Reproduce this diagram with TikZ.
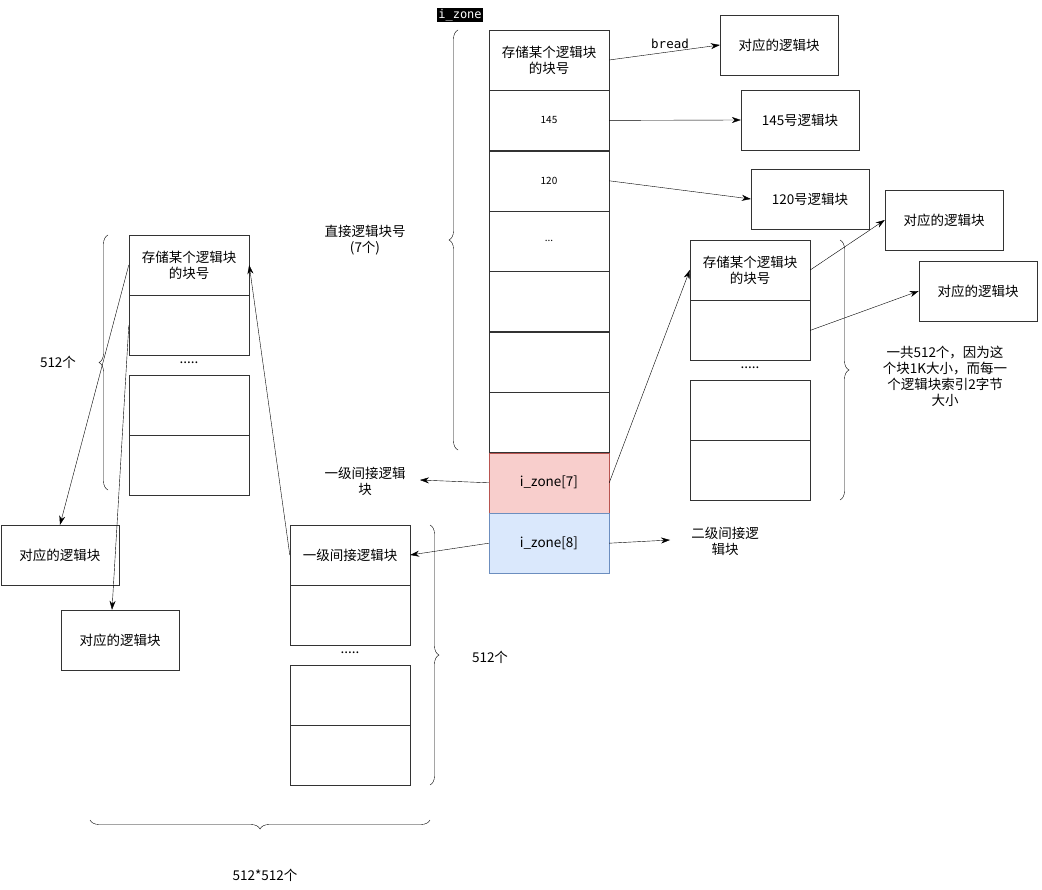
\documentclass[tikz,border=0pt]{standalone}
\usepackage{fontspec}
\setmainfont{Noto Sans CJK SC}
\setmonofont{DejaVu Sans Mono}
\usetikzlibrary{positioning,arrows.meta,decorations.pathreplacing}
\definecolor{pinkfill}{HTML}{F8CECC}
\definecolor{pinkline}{HTML}{B85450}
\definecolor{bluefill}{HTML}{DAE8FC}
\definecolor{blueline}{HTML}{6C8EBF}
\tikzset{
  cell/.style   = {draw=black!80, minimum width=120pt, minimum height=60pt,
                   inner sep=1pt, align=center, font=\fontsize{13.5}{16}\selectfont},
  blk/.style    = {cell, minimum width=118pt},
  lbl/.style    = {align=center, font=\fontsize{13.5}{16}\selectfont},
  brc/.style    = {decorate, decoration={brace,amplitude=9pt}, thin}
}
\begin{document}
\begin{tikzpicture}[x=1pt,y=-1pt,->,>={Stealth[length=9pt,width=6pt]},thin]
\useasboundingbox (0,0) rectangle (1042,890);
% main column
\node [cell] (r0) at (549,60) {存储某个逻辑块\\的块号};
\node [cell, font=\fontsize{10}{12}\selectfont, below=0pt of r0] (r1) {145};
\node [cell, font=\fontsize{10}{12}\selectfont, below=0pt of r1] (r2) {120};
\node [cell, font=\fontsize{10}{12}\selectfont, below=0pt of r2] (r3) {...};
\node [cell, below=0pt of r3] (r4) {};
\node [cell, below=0pt of r4] (r5) {};
\node [cell, below=0pt of r5] (r6) {};
\node [cell, fill=pinkfill, draw=pinkline, below=0pt of r6] (z7) {i\_zone[7]};
\node [cell, fill=bluefill, draw=blueline, below=0pt of z7] (z8) {i\_zone[8]};
\node [fill=black, text=white, inner sep=1.5pt, font=\ttfamily\fontsize{12}{14}\selectfont] (iz) at (460,15) {i\_zone};
% direct blocks
\node [blk] (d0) at (779,45) {对应的逻辑块};
\node [blk] (d1) at (800,120) {145号逻辑块};
\node [blk] (d2) at (810,199) {120号逻辑块};
\draw (r0.east) -- node [above, font=\ttfamily\fontsize{12.5}{14}\selectfont, pos=0.55] {bread} (d0.west);
\draw (r1.east) -- (d1.west);
\draw (r2.east) -- (d2.west);
\draw [brc,-] (458,450) -- (458,30);
\node [lbl] (dl) at (365,240) {直接逻辑块号\\(7个)};
\node [lbl] (l7) at (365,481) {一级间接逻辑\\块};
\node [lbl] (l8) at (725,541) {二级间接逻\\辑块};
\draw (z7.west) -- (420,480);
\draw (z8.east) -- (670,540);
% single indirect block
\node [cell] (a0) at (750,270) {存储某个逻辑块\\的块号};
\node [cell, below=0pt of a0] (a1) {};
\node [lbl] (ad) at (750,368) {.....};
\node [cell] (a2) at (750,410) {};
\node [cell, below=0pt of a2] (a3) {};
\node [blk] (e0) at (944,220) {对应的逻辑块};
\node [blk] (e1) at (978,291) {对应的逻辑块};
\draw (z7.east) -- (a0.west);
\draw (a0.east) -- (e0.west);
\draw (a1.east) -- (e1.west);
\draw [brc,-] (840,240) -- (840,500);
\node [lbl] (an) at (945,376) {一共512个，因为这\\个块1K大小，而每一\\个逻辑块索引2字节\\大小};
% double indirect block
\node [cell] (b0) at (350,555) {一级间接逻辑块};
\node [cell, below=0pt of b0] (b1) {};
\node [lbl] (bd) at (350,653) {.....};
\node [cell] (b2) at (350,695) {};
\node [cell, below=0pt of b2] (b3) {};
\draw (z8.west) -- (b0.east);
\draw [brc,-] (430,525) -- (430,785);
\node [lbl] (bn) at (490,657) {512个};
% second level
\node [cell] (c0) at (189,265) {存储某个逻辑块\\的块号};
\node [cell, below=0pt of c0] (c1) {};
\node [lbl] (cd) at (189,363) {.....};
\node [cell] (c2) at (189,405) {};
\node [cell, below=0pt of c2] (c3) {};
\node [blk] (f0) at (60,555) {对应的逻辑块};
\node [blk] (f1) at (120,640) {对应的逻辑块};
\draw (b0.west) -- (c0.east);
\draw (c0.west) -- (f0.north);
\draw (c1.west) -- ([xshift=-8pt]f1.north);
\draw [brc,-] (108,490) -- (108,235);
\node [lbl] (cn) at (58,362) {512个};
\draw [brc,-] (430,820) -- (90,820);
\node [lbl] (tot) at (265,875) {512*512个};
\end{tikzpicture}
\end{document}
